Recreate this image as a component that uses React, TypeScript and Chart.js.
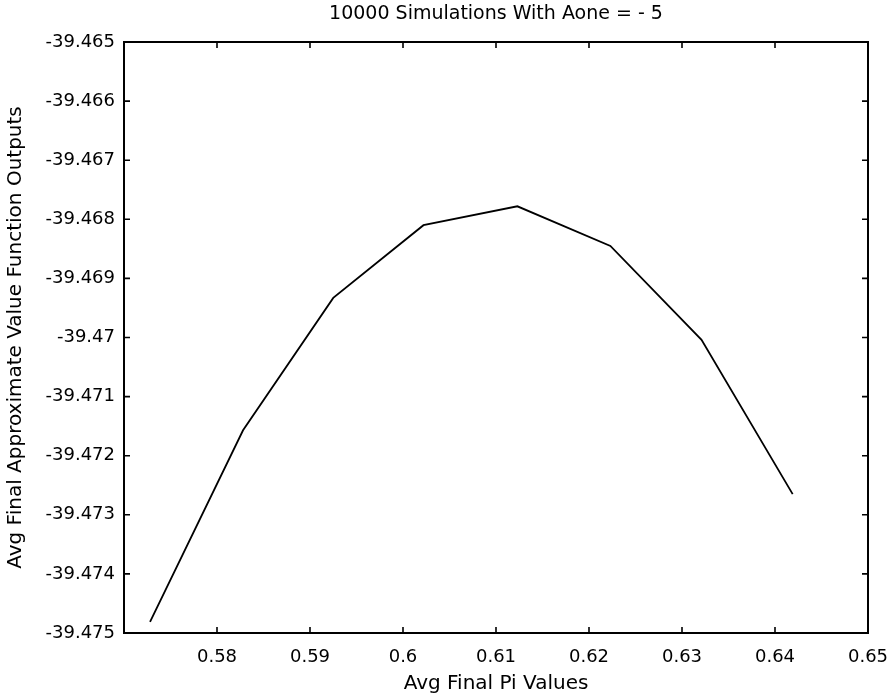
import React, { useEffect, useRef } from "react";
import { Chart, registerables } from "chart.js";

Chart.register(...registerables);

const piValues = [0.5728, 0.5828, 0.5925, 0.6022, 0.6123, 0.6223, 0.6321, 0.6419];
const valueOutputs = [-39.47481, -39.47157, -39.46933, -39.4681, -39.46778, -39.46845, -39.47004, -39.47265];
const xTicks = [0.58, 0.59, 0.6, 0.61, 0.62, 0.63, 0.64, 0.65];
const yTicks = [-39.475, -39.474, -39.473, -39.472, -39.471, -39.47, -39.469, -39.468, -39.467, -39.466, -39.465];
const chartTitle = "10000 Simulations With Aone = - 5";
const xTitle = "Avg Final Pi Values";
const yTitle = "Avg Final Approximate Value Function Outputs";

const fmt = (v: number) => String(parseFloat(v.toFixed(4)));

export default function App() {
  const ref = useRef<HTMLCanvasElement | null>(null);
  useEffect(() => {
    document.body.style.margin = "0";
    const canvas = ref.current;
    if (!canvas) return;
    const framePlugin = {
      id: "frame",
      afterDraw(chart: any) {
        const { ctx, chartArea } = chart;
        const { left, right, top, bottom } = chartArea;
        const xs = chart.scales.x;
        const ys = chart.scales.y;
        ctx.save();
        ctx.strokeStyle = "#000";
        ctx.lineWidth = 2;
        ctx.strokeRect(left, top, right - left, bottom - top);
        ctx.lineWidth = 1.6;
        const tl = 6;
        ctx.beginPath();
        xTicks.forEach((v) => {
          const px = xs.getPixelForValue(v);
          ctx.moveTo(px, bottom);
          ctx.lineTo(px, bottom - tl);
          ctx.moveTo(px, top);
          ctx.lineTo(px, top + tl);
        });
        yTicks.forEach((v) => {
          const py = ys.getPixelForValue(v);
          ctx.moveTo(left, py);
          ctx.lineTo(left + tl, py);
          ctx.moveTo(right, py);
          ctx.lineTo(right - tl, py);
        });
        ctx.stroke();
        ctx.fillStyle = "#000";
        ctx.textAlign = "center";
        ctx.textBaseline = "middle";
        ctx.font = "19px 'DejaVu Sans'";
        ctx.fillText(chartTitle, (left + right) / 2, 14);
        ctx.font = "20px 'DejaVu Sans'";
        ctx.fillText(xTitle, (left + right) / 2, 684);
        ctx.translate(16, (top + bottom) / 2);
        ctx.rotate(-Math.PI / 2);
        ctx.fillText(yTitle, 0, 0);
        ctx.restore();
      },
    };
    const chart = new Chart(canvas, {
      type: "line",
      data: {
        datasets: [
          {
            data: piValues.map((x, i) => ({ x, y: valueOutputs[i] })),
            borderColor: "#000",
            borderWidth: 1.8,
            pointRadius: 0,
            fill: false,
            tension: 0,
          },
        ],
      },
      options: {
        responsive: false,
        animation: false,
        devicePixelRatio: 1,
        layout: { padding: { top: 42, right: 24, left: 0, bottom: 0 } },
        plugins: { legend: { display: false }, tooltip: { enabled: false }, title: { display: false } },
        scales: {
          x: {
            type: "linear",
            min: 0.57,
            max: 0.65,
            grid: { display: false, drawTicks: false },
            border: { display: false },
            afterBuildTicks: (s: any) => {
              s.ticks = xTicks.map((value) => ({ value }));
            },
            afterFit: (s: any) => {
              s.height = 67;
              s.paddingLeft = 0;
              s.paddingRight = 0;
            },
            ticks: {
              autoSkip: false,
              maxRotation: 0,
              padding: 14,
              color: "#000",
              font: { family: "'DejaVu Sans'", size: 18 },
              callback: (v: any) => fmt(Number(v)),
            },
          },
          y: {
            type: "linear",
            min: -39.475,
            max: -39.465,
            grid: { display: false, drawTicks: false },
            border: { display: false },
            afterBuildTicks: (s: any) => {
              s.ticks = yTicks.map((value) => ({ value }));
            },
            afterFit: (s: any) => {
              s.width = 124;
              s.paddingTop = 0;
              s.paddingBottom = 0;
            },
            ticks: {
              autoSkip: false,
              padding: 9,
              color: "#000",
              font: { family: "'DejaVu Sans'", size: 18 },
              callback: (v: any) => fmt(Number(v)),
            },
          },
        },
      },
      plugins: [framePlugin],
    });
    return () => chart.destroy();
  }, []);
  return <canvas ref={ref} width={892} height={700} style={{ display: "block" }} />;
}
